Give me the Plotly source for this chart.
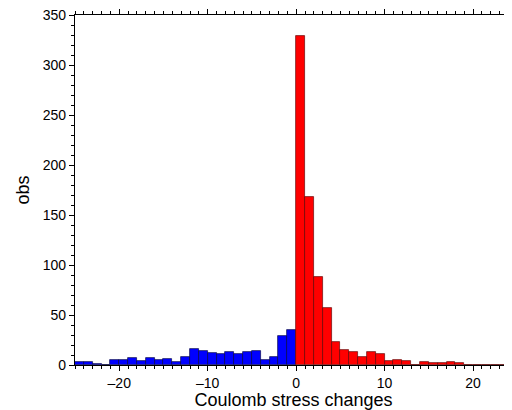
import plotly.graph_objects as go

# bin left edges (width 1)
neg_edges = list(range(-25, 0))
neg_counts = [3, 3, 1, 0, 5, 5, 7, 4, 7, 5, 6, 3, 8, 16, 14, 12, 11, 13, 11, 13, 14, 5, 8, 29, 35]
pos_edges = list(range(0, 25))
pos_counts = [329, 168, 88, 57, 23, 15, 13, 8, 13, 11, 4, 5, 4, 0, 3, 2, 2, 3, 2, 0, 0, 0, 0, 0, 0]

x_ticks = [-20, -10, 0, 10, 20]
y_ticks = [0, 50, 100, 150, 200, 250, 300, 350]

fig = go.Figure()
fig.add_trace(go.Bar(
    x=[e + 0.5 for e in neg_edges], y=neg_counts, width=1,
    marker=dict(color="#0000ff", line=dict(color="rgba(0,0,60,0.8)", width=0.8)),
    showlegend=False,
))
fig.add_trace(go.Bar(
    x=[e + 0.5 for e in pos_edges], y=pos_counts, width=1,
    marker=dict(color="#ff0000", line=dict(color="rgba(90,0,0,0.8)", width=0.8)),
    showlegend=False,
))

font_family = "Liberation Sans, Arial, Helvetica, sans-serif"
fig.update_layout(
    width=504, height=402,
    margin=dict(l=67, r=0, t=7, b=45),
    paper_bgcolor="white", plot_bgcolor="white",
    bargap=0,
    font=dict(family=font_family, size=14, color="black"),
    xaxis=dict(
        range=[-25, 24.4], tickvals=x_ticks,
        ticktext=[str(v) if v >= 0 else "\u2013" + str(-v) for v in x_ticks],
        showline=True, linecolor="black", linewidth=1.2, mirror="ticks",
        ticks="outside", ticklen=5, tickwidth=1, tickcolor="black",
        minor=dict(dtick=1, ticks="outside", ticklen=3, tickcolor="black", tickwidth=0.8),
        showgrid=False, zeroline=False, automargin=False,
        ticklabeloverflow="allow",
        title=dict(text="Coulomb stress changes", font=dict(size=18), standoff=0),
        tickfont=dict(size=14),
    ),
    yaxis=dict(
        range=[0, 350], tickvals=y_ticks,
        showline=True, linecolor="black", linewidth=1.2,
        ticks="outside", ticklen=5, tickwidth=1, tickcolor="black",
        minor=dict(dtick=10, ticks="outside", ticklen=3, tickcolor="black", tickwidth=0.8),
        showgrid=False, zeroline=False, automargin=False,
        ticklabeloverflow="allow",
        title=dict(text="obs", font=dict(size=18), standoff=8),
        tickfont=dict(size=14),
    ),
)

fig.write_html("out.html")
